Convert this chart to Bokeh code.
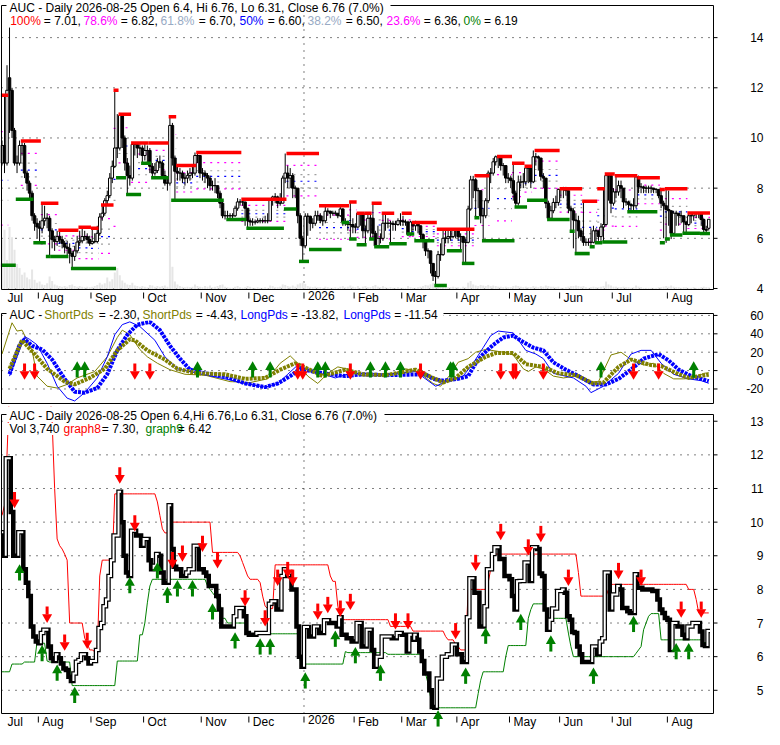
import numpy as np
import pandas as pd
from bokeh.plotting import figure
from bokeh.models import Range1d
from bokeh.core.properties import value
from bokeh.layouts import column
from bokeh.embed import file_html
from bokeh.resources import INLINE

# ------------------------------------------------------------------ data
START_DATE = "2025-07-11"
END_DATE = "2026-08-25"
HOLIDAYS = ["2025-09-01", "2025-11-27", "2025-12-25", "2026-01-01", "2026-01-19",
            "2026-02-16", "2026-04-03", "2026-05-25", "2026-06-19", "2026-07-03"]

opens = [
    9.0, 9.7, 9.0, 12.4, 11.9, 10.3, 9.0, 9.0, 9.7, 9.7,
    8.6, 8.2, 7.8, 6.9, 6.6, 6.45, 6.4, 6.7, 6.8, 6.8,
    6.3, 5.95, 5.87, 6.07, 5.95, 5.8, 5.65, 5.6, 5.4, 5.28,
    5.5, 5.85, 5.9, 6.07, 6.07, 5.95, 5.8, 5.87, 5.87, 6.2,
    6.85, 7.0, 7.5, 7.7, 8.4, 8.87, 9.6, 9.6, 10.9, 10.0,
    9.0, 8.5, 8.4, 9.74, 9.74, 9.6, 9.6, 9.3, 9.5, 9.5,
    8.87, 8.6, 8.7, 9.05, 9.0, 8.5, 8.2, 8.2, 10.5, 9.2,
    8.67, 8.6, 8.6, 8.4, 8.4, 8.5, 8.6, 8.6, 9.3, 9.3,
    8.6, 8.6, 8.5, 8.4, 8.1, 8.1, 8.1, 7.8, 7.4, 6.9,
    6.9, 6.9, 6.9, 6.9, 7.2, 7.45, 7.45, 7.45, 7.2, 6.7,
    6.65, 6.65, 6.65, 6.7, 6.7, 6.7, 6.7, 6.7, 7.57, 7.65,
    7.65, 7.4, 7.4, 8.4, 8.6, 8.4, 8.5, 8.0, 8.0, 6.9,
    6.0, 5.7, 6.88, 6.88, 6.6, 6.6, 6.9, 6.9, 6.7, 6.7,
    7.08, 7.08, 7.0, 7.0, 7.0, 6.9, 7.17, 6.65, 6.65, 6.55,
    6.55, 6.45, 6.45, 7.0, 7.0, 6.3, 6.3, 6.8, 6.8, 6.2,
    5.7, 6.0, 6.0, 6.6, 6.6, 6.6, 6.6, 6.55, 6.55, 6.7,
    6.7, 6.65, 6.65, 6.15, 6.65, 6.5, 6.65, 6.5, 6.15, 5.87,
    5.5, 5.5, 5.0, 4.5, 4.48, 5.35, 5.35, 6.0, 6.0, 6.07,
    6.07, 6.36, 6.36, 6.07, 6.07, 5.84, 5.84, 7.17, 8.33, 8.33,
    7.9, 7.9, 6.9, 6.9, 7.5, 8.6, 8.6, 9.05, 9.25, 9.25,
    8.9, 8.9, 8.4, 8.4, 8.3, 7.8, 7.4, 8.24, 8.25, 8.25,
    8.8, 8.8, 8.25, 9.25, 9.25, 9.2, 8.47, 8.4, 7.4, 6.8,
    7.1, 7.43, 7.43, 7.95, 7.95, 8.0, 7.9, 7.2, 7.1, 6.73,
    6.7, 6.3, 6.07, 5.84, 5.84, 5.84, 5.84, 6.3, 6.3, 6.07,
    6.45, 6.55, 8.5, 8.5, 7.4, 7.85, 7.85, 8.1, 8.0, 7.45,
    7.45, 7.35, 7.3, 7.3, 8.45, 8.05, 8.05, 8.0, 8.0, 8.0,
    8.0, 7.95, 7.95, 7.7, 7.4, 7.3, 7.15, 7.1, 6.2, 7.0,
    7.0, 6.9, 6.9, 6.65, 6.55, 6.9, 6.9, 7.0, 7.0, 7.0,
    6.75, 6.35, 6.4]

highs = [
    9.9, 11.7, 12.9, 14.4, 12.0, 10.4, 9.3, 9.9, 9.88, 9.8,
    8.7, 8.3, 7.9, 7.0, 6.8, 6.7, 7.4, 7.3, 7.0, 6.9,
    6.4, 6.1, 6.3, 6.32, 6.1, 5.9, 5.9, 5.8, 5.5, 5.7,
    6.1, 6.3, 6.44, 6.3, 6.2, 6.1, 6.4, 6.2, 6.5, 7.0,
    7.33, 7.6, 7.9, 8.6, 9.1, 11.9, 10.95, 11.0, 10.95, 10.1,
    9.2, 8.9, 9.8, 9.8, 9.8, 9.75, 9.7, 9.8, 9.7, 9.6,
    9.0, 9.0, 9.2, 9.3, 9.1, 8.7, 8.4, 10.85, 10.6, 9.3,
    8.9, 8.8, 8.7, 8.6, 8.7, 8.8, 8.9, 9.42, 9.4, 9.3,
    8.8, 8.7, 8.6, 8.5, 8.3, 8.4, 8.1, 7.9, 7.5, 7.1,
    7.1, 7.0, 7.0, 7.3, 7.6, 7.56, 7.5, 7.45, 7.2, 6.8,
    6.8, 6.75, 6.8, 6.8, 6.8, 6.9, 7.0, 7.6, 7.7, 7.8,
    7.7, 7.8, 8.5, 9.38, 8.9, 8.8, 8.6, 8.1, 8.0, 7.0,
    6.1, 7.0, 7.0, 6.9, 6.8, 7.1, 7.1, 7.0, 6.9, 7.3,
    7.2, 7.1, 7.1, 7.1, 7.0, 7.3, 7.2, 6.8, 6.7, 7.45,
    6.8, 6.6, 7.0, 7.0, 7.0, 6.5, 7.0, 7.0, 7.4, 6.3,
    6.5, 6.2, 7.0, 7.0, 6.8, 6.7, 6.7, 6.7, 6.8, 7.0,
    6.9, 6.75, 6.7, 6.7, 6.68, 6.7, 6.68, 6.5, 6.2, 5.9,
    5.6, 5.5, 5.0, 4.7, 5.5, 5.8, 6.3, 6.36, 6.3, 6.3,
    6.36, 6.36, 6.36, 6.2, 6.1, 6.0, 7.3, 8.49, 8.49, 8.4,
    8.0, 7.9, 7.2, 7.6, 8.7, 8.8, 9.2, 9.3, 9.26, 9.3,
    9.0, 8.9, 8.6, 8.5, 8.99, 7.9, 8.5, 8.5, 8.6, 8.87,
    8.87, 8.8, 9.5, 9.4, 9.3, 9.2, 8.6, 8.4, 7.5, 7.3,
    7.6, 7.7, 7.98, 7.98, 8.05, 8.05, 7.9, 7.3, 7.2, 7.0,
    6.9, 6.4, 7.48, 6.0, 6.0, 6.4, 6.5, 6.4, 6.3, 6.6,
    7.98, 8.56, 8.56, 8.5, 8.0, 8.49, 8.3, 8.3, 8.0, 7.6,
    7.5, 7.4, 7.6, 8.49, 8.5, 8.2, 8.1, 8.1, 8.1, 8.1,
    8.0, 8.0, 7.95, 7.95, 7.5, 7.98, 7.9, 7.1, 7.1, 7.1,
    7.0, 7.1, 6.9, 6.7, 7.0, 7.0, 7.0, 7.01, 7.01, 7.0,
    6.8, 6.5, 6.76]

lows = [
    8.9, 8.6, 8.9, 10.2, 10.0, 8.9, 8.6, 8.9, 9.3, 8.4,
    7.9, 7.6, 6.7, 6.3, 6.0, 5.82, 6.2, 6.5, 6.4, 5.3,
    5.6, 5.5, 5.7, 5.8, 5.6, 5.4, 5.3, 5.0, 4.8, 5.1,
    5.4, 5.7, 5.8, 5.9, 5.8, 5.7, 5.75, 5.8, 5.8, 6.1,
    6.7, 6.9, 7.3, 7.6, 8.2, 8.8, 9.2, 9.5, 9.6, 8.7,
    7.75, 8.1, 8.3, 9.3, 9.2, 9.3, 9.0, 9.1, 9.0, 8.6,
    8.41, 8.5, 8.6, 8.8, 8.41, 8.1, 7.9, 8.1, 8.9, 7.52,
    8.3, 8.3, 8.2, 8.1, 8.2, 8.3, 8.4, 8.5, 9.0, 8.4,
    8.3, 8.2, 8.0, 7.9, 7.9, 7.8, 7.6, 7.2, 6.8, 6.75,
    6.8, 6.8, 6.8, 6.85, 7.1, 7.3, 7.3, 6.5, 6.4, 6.5,
    6.5, 6.55, 6.6, 6.6, 6.6, 6.6, 6.6, 6.7, 7.3, 7.4,
    7.2, 7.3, 7.4, 8.2, 8.0, 8.0, 7.6, 7.6, 6.6, 5.7,
    5.1, 5.6, 6.1, 6.3, 6.4, 6.5, 6.7, 6.6, 6.5, 6.6,
    6.9, 6.8, 6.9, 6.9, 6.8, 6.85, 6.5, 6.5, 6.3, 6.0,
    6.2, 6.2, 6.4, 6.5, 6.0, 5.74, 6.2, 6.0, 6.0, 5.66,
    5.7, 5.8, 5.9, 6.3, 6.4, 5.78, 6.3, 6.3, 6.5, 6.5,
    6.5, 6.5, 6.1, 6.1, 6.3, 6.3, 6.2, 5.9, 5.6, 5.3,
    5.2, 4.6, 4.3, 4.15, 4.4, 5.1, 5.3, 5.8, 5.8, 5.9,
    6.0, 6.0, 5.9, 5.5, 5.0, 5.0, 5.8, 7.1, 7.6, 6.82,
    7.2, 6.6, 5.9, 6.8, 7.4, 8.2, 8.5, 8.9, 8.8, 8.7,
    8.5, 8.2, 8.2, 8.0, 7.5, 7.25, 7.3, 8.0, 8.0, 8.1,
    8.2, 8.0, 8.2, 8.9, 8.7, 8.3, 8.0, 7.2, 6.75, 6.75,
    7.0, 7.2, 7.3, 7.6, 7.6, 7.7, 7.0, 6.28, 5.6, 5.4,
    6.0, 5.9, 5.7, 5.7, 5.7, 5.66, 5.8, 5.82, 5.9, 5.85,
    5.85, 6.5, 7.5, 7.0, 7.3, 7.6, 7.7, 7.6, 7.2, 7.3,
    7.1, 7.06, 7.1, 7.2, 7.8, 7.8, 7.8, 7.8, 7.8, 7.8,
    7.8, 7.8, 7.6, 7.2, 6.0, 5.82, 6.5, 5.97, 6.13, 6.5,
    6.5, 6.6, 6.2, 6.2, 6.5, 6.6, 6.7, 6.8, 6.8, 6.5,
    6.2, 6.17, 6.31]

closes = [
    9.7, 9.0, 11.9, 11.9, 10.3, 9.0, 9.0, 9.7, 9.7, 8.6,
    8.2, 7.8, 6.9, 6.6, 6.45, 6.4, 6.7, 6.8, 6.8, 6.3,
    5.95, 5.87, 6.07, 5.95, 5.8, 5.65, 5.6, 5.4, 5.28, 5.5,
    5.85, 5.9, 6.07, 6.07, 5.95, 5.8, 5.87, 5.87, 6.2, 6.85,
    7.0, 7.5, 7.7, 8.4, 8.87, 9.6, 9.6, 10.9, 10.0, 9.0,
    8.5, 8.4, 9.74, 9.74, 9.6, 9.6, 9.3, 9.5, 9.5, 8.87,
    8.6, 8.7, 9.05, 9.0, 8.5, 8.2, 8.2, 10.5, 9.2, 8.67,
    8.6, 8.6, 8.4, 8.4, 8.5, 8.6, 8.6, 9.3, 9.3, 8.6,
    8.6, 8.5, 8.4, 8.1, 8.1, 8.1, 7.8, 7.4, 6.9, 6.9,
    6.9, 6.9, 6.9, 7.2, 7.45, 7.45, 7.45, 7.2, 6.7, 6.65,
    6.65, 6.65, 6.7, 6.7, 6.7, 6.7, 6.7, 7.57, 7.65, 7.65,
    7.4, 7.4, 8.4, 8.6, 8.4, 8.5, 8.0, 8.0, 6.9, 6.0,
    5.7, 6.88, 6.88, 6.6, 6.6, 6.9, 6.9, 6.7, 6.7, 7.08,
    7.08, 7.0, 7.0, 7.0, 6.9, 7.17, 6.65, 6.65, 6.55, 6.55,
    6.45, 6.45, 7.0, 7.0, 6.3, 6.3, 6.8, 6.8, 6.2, 5.7,
    6.0, 6.0, 6.6, 6.6, 6.6, 6.6, 6.55, 6.55, 6.7, 6.7,
    6.65, 6.65, 6.15, 6.65, 6.5, 6.65, 6.5, 6.15, 5.87, 5.5,
    5.5, 5.0, 4.5, 4.48, 5.35, 5.35, 6.0, 6.0, 6.07, 6.07,
    6.36, 6.36, 6.07, 6.07, 5.84, 5.84, 7.17, 8.33, 8.33, 7.9,
    7.9, 6.9, 6.9, 7.5, 8.6, 8.6, 9.05, 9.25, 9.25, 8.9,
    8.9, 8.4, 8.4, 8.3, 7.8, 7.4, 8.24, 8.25, 8.25, 8.8,
    8.8, 8.25, 9.25, 9.25, 9.2, 8.47, 8.4, 7.4, 6.8, 7.1,
    7.43, 7.43, 7.95, 7.95, 8.0, 7.9, 7.2, 7.1, 6.73, 6.7,
    6.3, 6.07, 5.84, 5.84, 5.84, 5.84, 6.3, 6.3, 6.07, 6.45,
    6.55, 8.5, 8.5, 7.4, 7.85, 7.85, 8.1, 8.0, 7.45, 7.45,
    7.35, 7.3, 7.3, 8.45, 8.05, 8.05, 8.0, 8.0, 8.0, 8.0,
    7.95, 7.95, 7.7, 7.4, 7.3, 7.15, 7.1, 6.2, 7.0, 7.0,
    6.9, 6.9, 6.65, 6.55, 6.9, 6.9, 7.0, 7.0, 7.0, 6.75,
    6.35, 6.32, 6.76]

volumes = [
    88000, 105000, 52000, 110000, 92000, 70000, 45000, 38000, 26000, 30000,
    21000, 18000, 35000, 17000, 12000, 14000, 9000, 8000, 11000, 23000,
    15000, 9000, 7000, 6000, 5000, 6000, 5000, 8000, 9000, 6000,
    5000, 6000, 5000, 4000, 5000, 4000, 5000, 6000, 8000, 12000,
    9000, 11000, 21000, 14000, 18000, 30000, 38000, 25000, 16000, 12000,
    9000, 8000, 12000, 7000, 6000, 5000, 6000, 5000, 4000, 8000,
    7000, 5000, 6000, 5000, 6000, 7000, 5000, 260000, 40000, 14000,
    9000, 6000, 5000, 4000, 5000, 4000, 5000, 9000, 6000, 5000,
    4000, 6000, 5000, 7000, 4000, 5000, 6000, 8000, 9000, 5000,
    4000, 3000, 3000, 5000, 6000, 4000, 3000, 4000, 6000, 5000,
    3000, 3000, 4000, 3000, 3000, 4000, 3000, 7000, 6000, 4000,
    4000, 5000, 9000, 8000, 6000, 5000, 7000, 5000, 9000, 11000,
    12000, 10000, 6000, 5000, 4000, 5000, 4000, 4000, 3000, 5000,
    4000, 3000, 3000, 4000, 3000, 5000, 6000, 4000, 5000, 7000,
    5000, 4000, 6000, 3000, 5000, 6000, 4000, 4000, 6000, 8000,
    5000, 4000, 6000, 4000, 3000, 4000, 3000, 3000, 4000, 3000,
    3000, 3000, 6000, 4000, 3000, 3000, 4000, 5000, 6000, 8000,
    7000, 9000, 11000, 10000, 9000, 6000, 7000, 5000, 4000, 4000,
    5000, 4000, 4000, 3000, 5000, 4000, 12000, 15000, 9000, 7000,
    6000, 8000, 7000, 6000, 8000, 6000, 7000, 6000, 5000, 5000,
    4000, 5000, 4000, 4000, 6000, 7000, 6000, 5000, 4000, 5000,
    4000, 4000, 6000, 5000, 4000, 6000, 5000, 7000, 6000, 5000,
    5000, 4000, 5000, 3000, 3000, 4000, 5000, 6000, 6000, 7000,
    6000, 5000, 6000, 4000, 3000, 4000, 5000, 4000, 4000, 5000,
    6000, 14000, 9000, 7000, 5000, 5000, 4000, 4000, 5000, 4000,
    4000, 3000, 4000, 7000, 5000, 4000, 3000, 3000, 3000, 3000,
    3000, 3000, 4000, 4000, 5000, 6000, 5000, 7000, 5000, 4000,
    4000, 3000, 4000, 4000, 3000, 3000, 4000, 3000, 3000, 4000,
    5000, 4000, 3740]

# resistance (100%) and support (0%) levels: first bar, last bar, price
red_start = [0, 8, 16, 23, 31, 36, 40, 45, 47, 52, 59, 67, 70, 78, 96, 114, 127, 139, 142, 145,
             148, 152, 160, 164, 174, 189, 198, 204, 209, 213, 223, 232, 238, 241, 245, 254, 263, 265, 274]
red_end = [2, 15, 22, 30, 35, 38, 44, 46, 51, 58, 66, 69, 77, 95, 113, 126, 138, 141, 144, 147,
           151, 156, 163, 173, 188, 194, 203, 208, 211, 222, 231, 237, 240, 244, 253, 262, 264, 273, 282]
red_level = [11.7, 9.88, 7.4, 6.32, 6.44, 6.4, 7.33, 11.9, 10.95, 9.8, 9.8, 10.85, 8.9, 9.42, 7.56, 9.38, 7.3, 7.45, 7.0, 7.0,
             7.4, 7.0, 7.0, 6.63, 6.36, 8.49, 9.26, 8.99, 8.87, 9.5, 7.98, 7.48, 7.98, 8.56, 8.49, 8.41, 7.95, 7.98, 7.01]

green_start = [0, 6, 13, 18, 20, 28, 46, 50, 56, 60, 68, 90, 98, 113, 119, 123, 136, 139, 142, 147, 149, 155,
               162, 165, 173, 178, 184, 189, 192, 205, 210, 218, 227, 229, 235, 237, 240, 250, 263, 265, 267, 272, 279]
green_end = [5, 12, 17, 19, 26, 45, 49, 55, 59, 66, 88, 97, 112, 117, 122, 135, 138, 141, 145, 148, 154, 161,
             164, 172, 177, 183, 188, 190, 204, 209, 217, 226, 228, 234, 236, 239, 249, 261, 264, 266, 271, 278, 282]
green_level = [4.93, 7.56, 5.82, 5.28, 5.28, 4.8, 8.41, 7.75, 8.99, 8.41, 7.52, 6.75, 6.4, 7.17, 5.08, 5.55, 6.63, 5.97, 5.74, 5.97, 5.66, 5.78,
               6.17, 5.9, 4.12, 5.5, 5.0, 6.82, 5.9, 7.25, 7.52, 6.75, 6.28, 5.39, 5.66, 5.82, 5.85, 7.06, 5.82, 5.97, 6.13, 6.2, 6.19]

FIB_PCTS = [0.786, 0.618, 0.5, 0.382, 0.236]

# oscillator (bar index, value) readings
short_fast_x = [0, 4, 6, 8, 12, 14, 18, 22, 26, 30, 37, 42, 46, 48, 51, 55, 58, 62, 67, 73, 81, 91, 99, 106, 111, 115, 118, 122,
                126, 130, 134, 139, 144, 153, 157, 161, 166, 172, 175, 179, 182, 186, 189, 193, 200, 204, 208, 210, 213, 216,
                220, 224, 229, 234, 238, 243, 247, 251, 256, 260, 264, 268, 272, 276, 280, 282]
short_fast_y = [18, 52, 43, 44, 22, -6, -17, -19, -15, -8, -1, 15, 36, 44, 39, 23, 15, 8, 1, -4, -5, -12, -13, -9, 8, 16, 8, -6,
                -14, -3, 4, 1, -6, -5, -3, 2, -1, -14, -17, -4, 9, 13, 20, 23, 20, 17, 2, -1, 4, 2,
                -6, -8, -6, -13, -12, 17, 20, 12, 6, 8, -3, -9, -9, -8, -3, -2.3]
short_slow_x = [3, 8, 13, 18, 25, 29, 35, 41, 46, 51, 53, 58, 65, 70, 78, 89, 97, 105, 111, 117, 122, 128, 137, 144, 153,
                165, 176, 181, 186, 193, 197, 204, 209, 216, 222, 229, 236, 240, 246, 251, 259, 263, 270, 274, 278, 282]
short_slow_y = [2, 33, 18, 2, -12, -15, -8, 2, 22, 34, 33, 22, 12, 2, -3, -4, -9, -8, 1, 8, 2, -6, 1, -4, -5,
                1, -13, -8, 4, 15, 19, 19, 7, 4, -3, -5, -14, -13, 4, 12, 6, 5, -4, -8, -6, -4.43]
long_fast_x = [3, 7, 9, 11, 14, 18, 22, 26, 29, 33, 38, 42, 45, 48, 51, 55, 61, 65, 70, 78, 89, 97, 105, 110, 114, 118, 122,
               127, 133, 139, 144, 153, 157, 165, 173, 180, 184, 188, 192, 195, 198, 204, 209, 213, 216, 220, 228, 233, 235,
               240, 246, 251, 255, 259, 263, 268, 274, 279, 282]
long_fast_y = [-6, 22, 37, 34, 28, 8, -17, -30, -33, -24, -8, 15, 39, 50, 53, 48, 33, 15, 2, -3, -9, -14, -18, -14, -4, 6, 1,
               -3, -8, -3, -3, -4, -3, -1, -17, -9, -6, 8, 25, 38, 43, 41, 22, 18, 13, -3, -8, -17, -24,
               -17, -3, 18, 22, 22, 8, -4, -9, -11, -13.82]
long_slow_x = [3, 7, 9, 12, 16, 20, 25, 29, 33, 38, 42, 46, 50, 54, 59, 63, 67, 71, 75, 81, 89, 97, 105, 110, 115, 119, 124,
               131, 137, 144, 153, 169, 172, 176, 182, 186, 189, 192, 196, 200, 204, 208, 212, 216, 220, 225, 230, 236, 241,
               246, 251, 256, 262, 266, 270, 275, 279, 282]
long_slow_y = [-4, 28, 34, 27, 23, 12, -9, -23, -24, -19, -4, 22, 39, 50, 53, 44, 27, 13, 1, -3, -6, -14, -18, -14, -6, 2, -1,
               -4, -6, -4, -5, -4, -9, -11, -9, -6, 8, 18, 28, 36, 38, 31, 25, 22, 9, 1, -6, -15, -15,
               -9, 1, 13, 18, 11, 1, -6, -9, -11.54]

osc_sell_idx = [9, 13, 53, 59, 118, 120, 139, 167, 199, 204, 205, 216, 252, 262]
osc_buy_idx = [30, 33, 78, 100, 107, 126, 129, 147, 153, 159, 179, 180, 239, 276]

graph8 = [
    10.2, 10.5, 12.0, 14.0, 14.0, 14.0, 14.0, 14.0, 14.0, 14.0,
    14.0, 14.0, 14.0, 14.0, 14.0, 14.0, 14.0, 14.0, 14.0, 14.0,
    13.0, 11.0, 9.5, 9.3, 9.2, 9.05, 8.87, 7.0, 7.0, 7.0,
    7.0, 7.0, 7.0, 6.55, 6.4, 6.2, 6.2, 6.15, 6.15, 8.4,
    8.87, 8.87, 8.87, 8.87, 8.87, 10.84, 10.84, 10.84, 10.84, 10.84,
    10.84, 10.84, 10.84, 10.84, 10.84, 10.84, 10.84, 10.84, 10.84, 10.84,
    10.84, 10.84, 10.6, 10.2, 9.8, 9.68, 9.68, 10.0, 10.0, 10.0,
    10.0, 10.0, 10.0, 10.0, 10.0, 10.0, 10.0, 10.0, 10.0, 10.0,
    10.0, 10.0, 10.0, 10.0, 9.1, 9.1, 9.1, 9.1, 9.1, 9.1,
    9.1, 9.1, 9.1, 9.1, 9.1, 9.0, 8.8, 8.6, 8.4, 8.3,
    8.3, 8.3, 8.3, 8.2, 7.8, 7.5, 7.43, 7.43, 7.43, 8.73,
    8.73, 8.73, 8.73, 8.73, 8.73, 8.73, 8.73, 8.73, 8.73, 8.73,
    8.73, 8.73, 8.73, 8.73, 8.73, 8.73, 8.73, 8.73, 8.73, 8.73,
    8.73, 8.4, 8.24, 8.24, 7.5, 7.17, 7.1, 7.1, 7.1, 7.1,
    7.1, 7.1, 7.1, 7.1, 7.1, 7.1, 7.1, 7.1, 7.1, 7.1,
    7.1, 7.1, 7.1, 7.1, 7.1, 6.9, 6.9, 6.9, 6.9, 6.9,
    6.9, 6.9, 6.9, 6.9, 6.76, 6.76, 6.76, 6.76, 6.76, 6.76,
    6.76, 6.76, 6.76, 6.76, 6.76, 6.76, 6.76, 6.6, 6.5, 6.5,
    6.5, 6.36, 6.3, 6.2, 6.2, 6.2, 8.0, 8.0, 8.0, 8.0,
    8.0, 8.0, 8.0, 8.0, 8.2, 8.6, 9.05, 9.05, 9.05, 9.05,
    9.05, 9.05, 9.05, 9.05, 9.05, 9.05, 9.05, 9.05, 9.05, 9.05,
    9.05, 9.05, 9.05, 9.05, 9.05, 9.05, 9.05, 9.05, 9.05, 9.05,
    9.05, 9.05, 9.05, 9.05, 9.05, 9.05, 9.05, 9.05, 9.05, 9.05,
    8.5, 7.8, 7.8, 7.8, 7.8, 7.8, 7.8, 7.8, 7.8, 7.8,
    7.8, 7.8, 8.0, 8.15, 8.15, 8.15, 8.15, 8.15, 8.15, 8.15,
    8.15, 8.15, 8.15, 8.15, 8.15, 8.15, 8.15, 8.15, 8.15, 8.15,
    8.15, 8.15, 8.15, 8.15, 8.15, 8.15, 8.15, 8.15, 8.15, 8.15,
    8.15, 8.15, 8.15, 8.15, 8.0, 8.0, 8.0, 7.7, 7.3, 7.3,
    7.3, 7.3, 7.3]

graph9 = [
    5.55, 5.55, 5.55, 5.55, 5.78, 5.78, 5.78, 5.78, 5.78, 5.84,
    5.84, 5.84, 5.84, 5.84, 6.45, 6.45, 6.4, 6.4, 5.87, 5.84,
    5.84, 5.84, 5.84, 5.84, 5.84, 5.84, 5.84, 5.84, 5.14, 5.14,
    5.14, 5.14, 5.14, 5.14, 5.14, 5.14, 5.14, 5.14, 5.14, 5.14,
    5.14, 5.14, 5.14, 5.14, 5.14, 5.14, 5.87, 5.87, 5.87, 5.87,
    5.87, 5.87, 5.87, 5.87, 5.87, 6.65, 6.65, 7.0, 7.6, 8.1,
    8.3, 8.3, 8.3, 8.3, 8.3, 8.3, 8.3, 8.3, 8.3, 8.3,
    8.3, 8.3, 8.3, 8.3, 8.3, 8.3, 8.3, 8.3, 8.3, 8.3,
    8.3, 8.3, 8.1, 8.0, 7.9, 7.8, 7.7, 7.6, 7.14, 7.14,
    7.0, 7.0, 7.0, 7.0, 7.0, 7.0, 7.0, 7.0, 6.7, 6.68,
    6.68, 6.68, 6.68, 6.68, 6.68, 6.68, 6.68, 6.68, 6.68, 6.68,
    6.68, 6.68, 6.68, 6.68, 6.68, 6.68, 6.68, 6.68, 6.68, 5.87,
    5.78, 5.78, 5.78, 5.78, 5.78, 5.78, 5.78, 5.78, 5.78, 5.78,
    5.78, 5.78, 5.78, 5.78, 5.78, 5.78, 5.78, 6.15, 6.12, 6.12,
    6.12, 6.12, 6.12, 6.12, 6.12, 6.12, 6.12, 6.12, 6.12, 6.12,
    6.12, 6.12, 6.12, 6.12, 6.07, 6.07, 6.07, 6.07, 6.07, 6.07,
    6.07, 6.07, 6.07, 6.07, 6.07, 6.07, 6.07, 6.07, 6.07, 5.5,
    5.2, 4.8, 4.48, 4.48, 4.48, 4.48, 4.48, 4.48, 4.48, 4.48,
    4.48, 4.48, 4.48, 4.48, 4.48, 4.48, 4.48, 4.48, 4.48, 4.48,
    4.9, 5.3, 5.55, 5.55, 5.55, 5.55, 5.55, 5.55, 5.55, 5.55,
    5.55, 6.0, 6.33, 6.33, 6.33, 6.33, 6.33, 6.33, 6.33, 6.33,
    7.14, 7.4, 7.57, 7.57, 7.57, 7.57, 7.57, 7.3, 7.14, 7.14,
    7.14, 7.14, 7.14, 7.14, 7.14, 7.14, 6.7, 6.3, 6.0, 6.0,
    6.0, 6.0, 6.0, 6.0, 6.0, 6.0, 6.0, 6.0, 6.0, 6.0,
    6.0, 6.0, 6.0, 6.0, 6.0, 6.0, 6.0, 6.0, 6.0, 6.0,
    6.0, 6.0, 6.0, 6.1, 6.2, 6.3, 6.8, 7.0, 7.2, 7.28,
    7.28, 7.28, 7.28, 6.5, 6.5, 6.5, 6.5, 6.5, 6.5, 6.5,
    6.5, 6.5, 6.5, 6.5, 6.5, 6.5, 6.5, 6.5, 6.5, 6.5,
    6.42, 6.42, 6.42]

sell_idx = [5, 18, 25, 34, 47, 53, 68, 72, 80, 86, 97, 105, 110, 114, 116, 126, 130, 135, 139, 157, 162, 181,
            189, 199, 210, 215, 226, 246, 255, 271, 279]
sell_price = [10.69, 7.28, 6.45, 6.5, 11.42, 10.0, 8.9, 9.1, 9.39, 8.9, 7.77, 7.17, 8.38, 8.61, 8.38, 7.37, 7.57, 7.46,
              7.66, 7.08, 7.08, 6.79, 8.82, 9.74, 9.28, 9.68, 8.38, 8.58, 8.38, 7.43, 7.43]
buy_idx = [7, 16, 22, 29, 51, 62, 66, 70, 76, 84, 93, 103, 107, 121, 133, 141, 151, 174, 185, 193, 207, 219, 236,
           252, 269, 274]
buy_price = [8.47, 6.07, 5.49, 4.83, 8.09, 8.53, 7.8, 8.0, 8.0, 7.31, 6.45, 6.27, 6.27, 5.26, 6.5, 6.01, 5.49, 4.13,
             5.4, 6.59, 7.0, 6.36, 5.4, 6.94, 6.13, 6.13]

TOP_TICKS = [4, 6, 8, 10, 12, 14]
MID_TICKS = [-20, 0, 20, 40, 60]
BOT_TICKS = [5, 6, 7, 8, 9, 10, 11, 12, 13]

TOP_TITLE = "AUC - Daily 2026-08-25 Open 6.4, Hi 6.76, Lo 6.31, Close 6.76 (7.0%)"
BOT_TITLE = "AUC - Daily 2026-08-25 Open 6.4,Hi 6.76,Lo 6.31, Close 6.76 (7.0%)"

# ------------------------------------------------------------------ style / geometry
FONT = "Liberation Sans"
FS = "12px"
RED = "#ff0000"
GREEN = "#008000"
BLUE = "#0000ff"
MAGENTA = "#ff00ff"
FIBGRAY = "#a0a0a0"
LEGGRAY = "#98aac4"
OLIVE = "#808000"
FIB_COLORS = [MAGENTA, FIBGRAY, BLUE, FIBGRAY, MAGENTA]

n = len(closes)
hol = set(HOLIDAYS)
dates = [d for d in pd.bdate_range(START_DATE, END_DATE) if d.strftime("%Y-%m-%d") not in hol][:n]
xs = np.arange(n)

month_pos, month_lab = [], []
for i, d in enumerate(dates):
    if i == 0 or d.month != dates[i - 1].month:
        month_pos.append(i)
        month_lab.append(str(d.year) if d.month == 1 else d.strftime("%b"))
jan_pos = month_pos[month_lab.index("2026")]

CANVAS_W = 764
BOX_L_PX, BOX_W_PX = 1, 712
BOX_X0, BOX_X1 = -0.2, n + 0.9
PXB = BOX_W_PX / (BOX_X1 - BOX_X0)
XR0 = BOX_X0 - BOX_L_PX / PXB
XR1 = XR0 + CANVAS_W / PXB


def X(px):
    return XR0 + px / PXB


class Panel:
    def __init__(self, box_h, yr, bt, bb, yticks):
        self.yr = yr
        self.ppu = box_h / (yr[1] - yr[0])
        self.full = (yr[0] - bb / self.ppu, yr[1] + bt / self.ppu)
        self.yticks = yticks
        p = figure(frame_width=CANVAS_W, frame_height=bt + box_h + bb,
                   x_range=Range1d(XR0, XR1), y_range=Range1d(*self.full),
                   output_backend="svg", toolbar_location=None,
                   x_axis_location=None, y_axis_location=None, min_border=0,
                   background_fill_color="white", border_fill_color="white")
        p.outline_line_color = None
        p.grid.visible = False
        self.p = p

    def Y(self, dy):  # dy pixels below box top
        return self.yr[1] - dy / self.ppu

    def grid(self, vgrid):
        p = self.p
        t = self.yticks
        p.segment(x0=[BOX_X0] * len(t), y0=t, x1=[BOX_X1] * len(t), y1=t,
                  line_color="black", line_width=1, line_dash="1 6")
        if vgrid:
            p.segment(x0=[jan_pos - 0.5], y0=[self.yr[0]], x1=[jan_pos - 0.5], y1=[self.yr[1]],
                      line_color="black", line_width=1, line_dash="1 6")

    def frame(self, month_axis):
        p = self.p
        y0, y1 = self.yr
        f0, f1 = self.full
        # white masks outside the chart box
        p.quad(left=[XR0, XR0, XR0, BOX_X1], right=[XR1, XR1, BOX_X0, XR1],
               bottom=[y1, f0, y0, y0], top=[f1, y0, y1, y1],
               fill_color="white", line_color=None)
        p.quad(left=[BOX_X0], right=[BOX_X1], bottom=[y0], top=[y1],
               fill_color=None, line_color="black", line_width=1)
        t = self.yticks
        p.segment(x0=[BOX_X1] * len(t), y0=t, x1=[BOX_X1 + 4 / PXB] * len(t), y1=t,
                  line_color="black", line_width=1)
        p.text(x=[BOX_X1 + 50 / PXB] * len(t), y=t, text=[str(v) for v in t],
               text_font=value(FONT), text_font_size=value(FS), text_color="black",
               text_align="right", text_baseline="middle")
        if month_axis:
            ticks = [m - 0.5 for m in month_pos if m > 0]
            p.segment(x0=ticks, y0=[y0 - 3 / self.ppu] * len(ticks), x1=ticks,
                      y1=[y0 - 9 / self.ppu] * len(ticks), line_color="black", line_width=1)
            lx = [max(m - 0.5, BOX_X0 + 2 / PXB) + 4 / PXB for m in month_pos]
            p.text(x=lx, y=[y0 - 1.5 / self.ppu] * len(lx), text=month_lab,
                   text_font=value(FONT), text_font_size=value(FS), text_color="black",
                   text_align="left", text_baseline="top")

    def text_row(self, dy, pieces, cover_end=None):
        p = self.p
        y = self.Y(dy)
        if cover_end is not None:
            p.quad(left=[X(6)], right=[X(cover_end - 2)], bottom=[y - 6 / self.ppu], top=[y + 6 / self.ppu],
                   fill_color="white", line_color=None)
        p.text(x=[X(rx - 2) for _, _, rx in pieces], y=[y] * len(pieces),
               text=[t for t, _, _ in pieces], text_color=[c for _, c, _ in pieces],
               text_font=value(FONT), text_font_size=value(FS),
               text_align="left", text_baseline="middle")


def add_arrows(p, ax, ay, up, color, ppu):
    ax = np.asarray(ax, float)
    ay = np.asarray(ay, float)
    if up:
        shaft_y, head_y, mk = ay - 3.0 / ppu, ay + 3.5 / ppu, "triangle"
    else:
        shaft_y, head_y, mk = ay + 3.0 / ppu, ay - 3.5 / ppu, "inverted_triangle"
    p.rect(x=ax, y=shaft_y, width=3, height=8, width_units="screen", height_units="screen",
           fill_color=color, line_color=None)
    p.scatter(x=ax, y=head_y, marker=mk, size=10, fill_color=color, line_color=None)


# ------------------------------------------------------------------ top panel
top = Panel(284, (3.96, 15.28), 5, 17, TOP_TICKS)
p1 = top.p
p1.extra_y_ranges = {"vol": Range1d(0, 500000 * (top.full[1] - top.full[0]) / (top.yr[1] - top.yr[0]))}
top.grid(True)
vol_bottom_shift = (top.yr[0] - top.full[0]) / (top.yr[1] - top.yr[0]) * 500000
p1.vbar(x=xs, top=np.array(volumes) + vol_bottom_shift, bottom=vol_bottom_shift, width=0.8,
        y_range_name="vol", fill_color="#e6e6e6", line_color=None)

green_segs = list(zip(green_start, green_end, green_level))
fx0, fx1, fy, fc = [], [], [], []
for s, e, hi in zip(red_start, red_end, red_level):
    best, best_ov = None, -1e9
    for gs, ge, gl in green_segs:
        ov = min(e, ge) - max(s, gs)
        if ov > best_ov:
            best_ov, best = ov, gl
    if best is None or best >= hi:
        continue
    for pct, col in zip(FIB_PCTS, FIB_COLORS):
        fx0.append(s - 0.5)
        fx1.append(e + 0.5)
        fy.append(best + pct * (hi - best))
        fc.append(col)
p1.segment(x0=fx0, y0=fy, x1=fx1, y1=fy, line_color=fc, line_width=1.2, line_dash="2 5")

o = np.array(opens)
c = np.array(closes)
up = c >= o
p1.segment(x0=xs, y0=lows, x1=xs, y1=highs, line_color="black", line_width=1)
p1.vbar(x=xs, width=1.0, top=np.maximum(o, c), bottom=np.minimum(o, c),
        fill_color=["white" if u else "black" for u in up], line_color="black", line_width=1)

p1.segment(x0=np.array(red_start) - 0.5, y0=red_level, x1=np.array(red_end) + 0.5, y1=red_level,
           line_color=RED, line_width=3.5, line_cap="butt")
p1.segment(x0=np.array(green_start) - 0.5, y0=green_level, x1=np.array(green_end) + 0.5, y1=green_level,
           line_color=GREEN, line_width=3.5, line_cap="butt")

top.frame(True)
top.text_row(2, [(TOP_TITLE, "black", 11)], cover_end=392)
top.text_row(15, [
    ("100%", RED, 11.7), ("= 7.01,", "black", 45.3),
    ("78.6%", MAGENTA, 85), ("= 6.82,", "black", 122.3),
    ("61.8%", LEGGRAY, 162), ("= 6.70,", "black", 200.3),
    ("50%", BLUE, 241), ("= 6.60,", "black", 269.3),
    ("38.2%", LEGGRAY, 309), ("= 6.50,", "black", 347.3),
    ("23.6%", MAGENTA, 388), ("= 6.36,", "black", 425.3),
    ("0%", GREEN, 465), ("= 6.19", "black", 485.6)])

# ------------------------------------------------------------------ middle panel
mid = Panel(90, (-35.8, 62.1), 7, 3, MID_TICKS)
p2 = mid.p
mid.grid(False)
p2.line(short_fast_x, short_fast_y, line_color=OLIVE, line_width=1)
p2.line(long_fast_x, long_fast_y, line_color=BLUE, line_width=1)
p2.line(long_slow_x, long_slow_y, line_color=BLUE, line_width=4, line_dash="3 1")
p2.line(short_slow_x, short_slow_y, line_color=OLIVE, line_width=4, line_dash="3 1")
add_arrows(p2, osc_sell_idx, [0] * len(osc_sell_idx), False, RED, mid.ppu)
add_arrows(p2, osc_buy_idx, [0] * len(osc_buy_idx), True, GREEN, mid.ppu)
mid.frame(False)
mid.text_row(1, [
    ("AUC -", "black", 11), ("ShortPds", OLIVE, 45.7), ("= -2.30,", "black", 100.3),
    ("ShortPds", OLIVE, 144), ("= -4.43,", "black", 197.3),
    ("LongPds", BLUE, 242), ("= -13.82,", "black", 292.3),
    ("LongPds", BLUE, 345), ("= -11.54", "black", 395.7)], cover_end=445)

# ------------------------------------------------------------------ bottom panel
bot = Panel(299, (4.31, 13.2), 8, 16, BOT_TICKS)
p3 = bot.p
bot.grid(True)
p3.line(xs, graph8, line_color=RED, line_width=1)
p3.line(xs, graph9, line_color=GREEN, line_width=1)

sx, sy = [], []
for i in range(n):
    sx += [i - 0.5, i + 0.5]
    sy += [closes[i], closes[i]]
p3.line(sx, sy, line_color="black", line_width=4.5, line_join="miter")

state = []
s_up = True
for i in range(n):
    if i > 0:
        if closes[i] > closes[i - 1]:
            s_up = True
        elif closes[i] < closes[i - 1]:
            s_up = False
    state.append(s_up)
runs_x, runs_y = [], []
cur_x = cur_y = None
for i in range(n):
    if state[i]:
        prev = closes[i - 1] if i > 0 else closes[i]
        if cur_x is None:
            cur_x, cur_y = [i - 0.5], [prev]
        cur_x += [i - 0.5, i + 0.5]
        cur_y += [closes[i], closes[i]]
    elif cur_x is not None:
        runs_x.append(cur_x)
        runs_y.append(cur_y)
        cur_x = cur_y = None
if cur_x is not None:
    runs_x.append(cur_x)
    runs_y.append(cur_y)
p3.multi_line(runs_x, runs_y, line_color="white", line_width=2, line_join="miter", line_cap="butt")

bot.frame(True)
add_arrows(p3, sell_idx, sell_price, False, RED, bot.ppu)
add_arrows(p3, buy_idx, buy_price, True, GREEN, bot.ppu)
bot.text_row(1.5, [(BOT_TITLE, "black", 11)], cover_end=386)
bot.text_row(14.5, [
    ("Vol 3,740", "black", 11), ("graph8", RED, 65), ("= 7.30,", "black", 103.3),
    ("graph9", GREEN, 147), ("= 6.42", "black", 179.3)], cover_end=221)

layout = column(p1, p2, p3, spacing=0)
open("out.html", "w").write(file_html(layout, INLINE))
